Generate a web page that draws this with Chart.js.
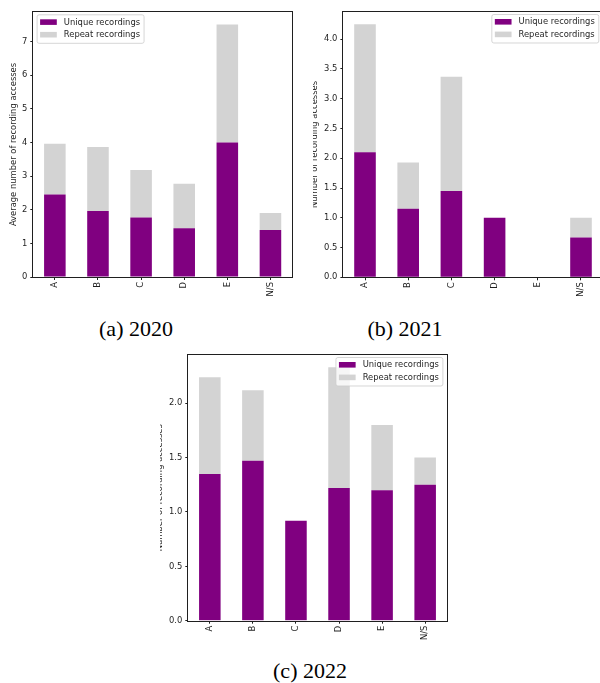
<!DOCTYPE html>
<html>
<head>
<meta charset="utf-8">
<script src="https://cdn.jsdelivr.net/npm/chart.js@4/dist/chart.umd.min.js"></script>
<style>
  html, body { margin: 0; padding: 0; background: #fff; width: 600px; height: 683px; overflow: hidden; position: relative; }
  .clip { position: absolute; overflow: hidden; }
  .clip canvas { position: absolute; top: 0; }
  .cap { position: absolute; font-family: "Liberation Serif", "Times New Roman", serif; font-size: 22px; line-height: 22px; color: #000; white-space: nowrap; transform: translateX(-50%); }
</style>
</head>
<body>
<div class="clip" style="left:0px; top:0px; width:300px; height:300px;">
  <canvas id="c2020" width="300" height="300" style="left:0px;"></canvas>
</div>
<div class="clip" style="left:313px; top:0px; width:287px; height:300px;">
  <canvas id="c2021" width="310" height="300" style="left:-13px;"></canvas>
</div>
<div class="clip" style="left:160px; top:345px; width:300px; height:300px;">
  <canvas id="c2022" width="310" height="300" style="left:-10px;"></canvas>
</div>
<div class="cap" style="left:136px; top:317.6px;">(a) 2020</div>
<div class="cap" style="left:405px; top:317.6px;">(b) 2021</div>
<div class="cap" style="left:310px; top:659.6px;">(c) 2022</div>

<script>
// Access categories shared by all three years
const CATEGORIES = ['A', 'B', 'C', 'D', 'E', 'N/S'];

// Average accesses per year, split into unique and repeat recordings
const UNIQUE_2020 = [2.45, 1.96, 1.77, 1.45, 4.00, 1.40];
const REPEAT_2020 = [1.51, 1.90, 1.41, 1.32, 3.50, 0.50];

const UNIQUE_2021 = [2.10, 1.15, 1.45, 1.00, 0.00, 0.67];
const REPEAT_2021 = [2.15, 0.78, 1.92, 0.00, 0.00, 0.33];

const UNIQUE_2022 = [1.35, 1.47, 0.92, 1.22, 1.20, 1.25];
const REPEAT_2022 = [0.89, 0.65, 0.00, 1.11, 0.60, 0.25];

const SERIES_LABELS = ['Unique recordings', 'Repeat recordings'];
const Y_TITLE_2020 = 'Average number of recording accesses';
const Y_TITLE_OTHER = 'Number of recording accesses';

const PURPLE = '#800080';
const LIGHTGRAY = '#d3d3d3';
const INK = '#1f1f1f';
const FONT_SIZE = 8.4;
const FONT_FAMILY = '"DejaVu Sans", Verdana, sans-serif';

// Box around the plotting area (all four spines)
const frame = {
  id: 'frame',
  afterDatasetsDraw(chart) {
    const { ctx, chartArea: a } = chart;
    ctx.save();
    ctx.strokeStyle = INK;
    ctx.lineWidth = 1;
    const l = Math.round(a.left) - 0.5, t = Math.round(a.top) - 0.5;
    const r = Math.round(a.right) + 0.5, b = Math.round(a.bottom) + 0.5;
    ctx.strokeRect(l, t, r - l, b - t);
    ctx.restore();
  }
};

// Legend drawn inside the plotting area, in a translucent rounded box
const insetLegend = {
  id: 'insetLegend',
  afterDraw(chart, args, opts) {
    const { ctx, chartArea: a } = chart;
    ctx.save();
    ctx.font = `${FONT_SIZE}px ${FONT_FAMILY}`;
    const items = chart.data.datasets.map(d => ({ label: d.label, color: d.backgroundColor }));
    const textW = Math.max(...items.map(i => ctx.measureText(i.label).width));
    const padL = 3, handleW = 16.7, handleH = 5.6, gap = 7, padR = 4;
    const w = padL + handleW + gap + textW + padR;
    const h = 28.5;
    const x = opts.corner === 'left' ? a.left + 3.8 : a.right - 3.8 - w;
    const y = a.top + 2.8;
    const rad = 2;
    ctx.beginPath();
    ctx.moveTo(x + rad, y);
    ctx.lineTo(x + w - rad, y);
    ctx.arcTo(x + w, y, x + w, y + rad, rad);
    ctx.lineTo(x + w, y + h - rad);
    ctx.arcTo(x + w, y + h, x + w - rad, y + h, rad);
    ctx.lineTo(x + rad, y + h);
    ctx.arcTo(x, y + h, x, y + h - rad, rad);
    ctx.lineTo(x, y + rad);
    ctx.arcTo(x, y, x + rad, y, rad);
    ctx.closePath();
    ctx.fillStyle = 'rgba(255,255,255,0.8)';
    ctx.fill();
    ctx.strokeStyle = 'rgba(204,204,204,0.8)';
    ctx.lineWidth = 1;
    ctx.stroke();
    items.forEach((it, i) => {
      const cy = y + 7.3 + i * 12.6;
      ctx.fillStyle = it.color;
      ctx.fillRect(x + padL, cy - handleH / 2, handleW, handleH);
      ctx.fillStyle = INK;
      ctx.textBaseline = 'middle';
      ctx.textAlign = 'left';
      ctx.fillText(it.label, x + padL + handleW + gap, cy + 0.5);
    });
    ctx.restore();
  }
};

function buildChart(canvasId, unique, repeat, geo) {
  const totals = unique.map((u, i) => u + repeat[i]);
  const yTop = 1.05 * Math.max(...totals);
  const font = { family: FONT_FAMILY, size: FONT_SIZE };
  return new Chart(document.getElementById(canvasId), {
    type: 'bar',
    data: {
      labels: CATEGORIES,
      datasets: [
        { label: SERIES_LABELS[0], data: unique, backgroundColor: PURPLE, borderWidth: 0,
          barPercentage: 0.5, categoryPercentage: 1.0 },
        { label: SERIES_LABELS[1], data: repeat, backgroundColor: LIGHTGRAY, borderWidth: 0,
          barPercentage: 0.5, categoryPercentage: 1.0 }
      ]
    },
    options: {
      responsive: false,
      animation: false,
      events: [],
      layout: { padding: { left: 0, top: geo.top, right: geo.right, bottom: 0 } },
      plugins: {
        legend: { display: false },
        tooltip: { enabled: false },
        insetLegend: { corner: geo.legend }
      },
      scales: {
        x: {
          stacked: true,
          offset: true,
          border: { display: false },
          grid: { display: true, drawOnChartArea: false, drawTicks: true, tickLength: 3,
                  offset: false, color: INK, lineWidth: 1 },
          ticks: { minRotation: 90, maxRotation: 90, autoSkip: false, padding: 2, color: INK, font },
          afterFit(s) { s.height = geo.xH; }
        },
        y: {
          stacked: true,
          min: 0,
          max: yTop,
          bounds: 'data',
          border: { display: false },
          grid: { display: true, drawOnChartArea: false, drawTicks: true, tickLength: 3,
                  color: INK, lineWidth: 1 },
          ticks: { stepSize: geo.step, includeBounds: false, padding: 3, color: INK, font,
                   callback: v => v.toFixed(geo.decimals) },
          title: { display: true, text: geo.title, color: INK, font,
                   padding: { top: geo.titlePad, bottom: 0 } },
          afterFit(s) { s.width = geo.yW; }
        }
      }
    },
    plugins: [frame, insetLegend]
  });
}

buildChart('c2020', UNIQUE_2020, REPEAT_2020,
  { top: 12, right: 8, xH: 23, yW: 33.3, step: 1, decimals: 0, title: Y_TITLE_2020, titlePad: 9, legend: 'left' });
buildChart('c2021', UNIQUE_2021, REPEAT_2021,
  { top: 11.7, right: 7.4, xH: 22.7, yW: 43.4, step: 0.5, decimals: 1, title: Y_TITLE_OTHER, titlePad: 9.8, legend: 'right' });
buildChart('c2022', UNIQUE_2022, REPEAT_2022,
  { top: 9.7, right: 13.3, xH: 24.3, yW: 38.3, step: 0.5, decimals: 1, title: Y_TITLE_OTHER, titlePad: 4.5, legend: 'right' });
</script>
</body>
</html>
